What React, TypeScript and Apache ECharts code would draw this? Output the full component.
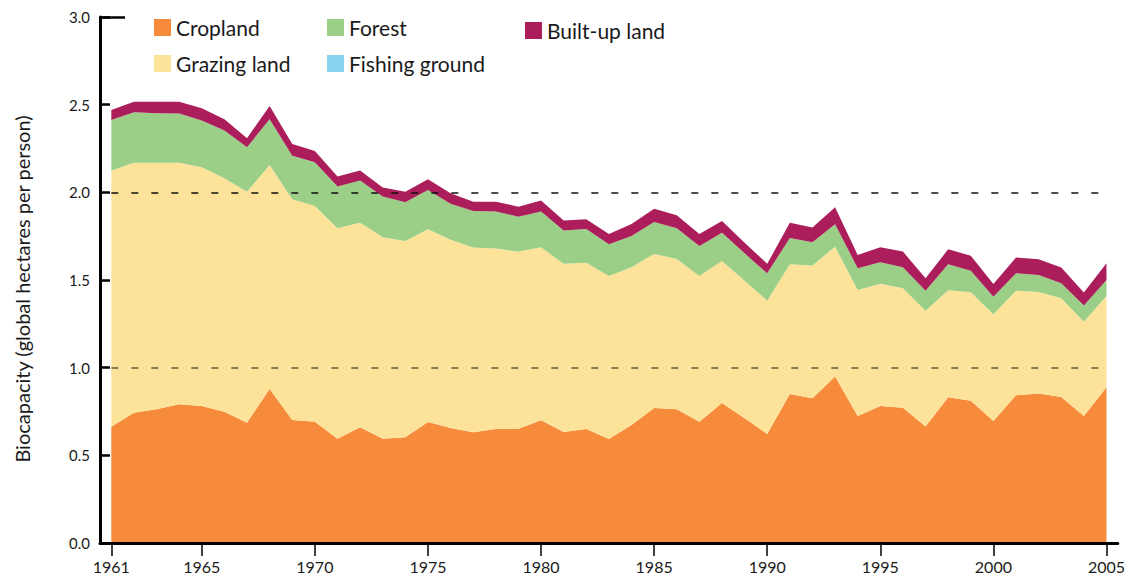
import React, { useEffect, useRef } from "react";
import * as echarts from "echarts";

const years = [
  "1961", "1962", "1963", "1964", "1965", "1966", "1967", "1968", "1969", "1970",
  "1971", "1972", "1973", "1974", "1975", "1976", "1977", "1978", "1979", "1980",
  "1981", "1982", "1983", "1984", "1985", "1986", "1987", "1988", "1989", "1990",
  "1991", "1992", "1993", "1994", "1995", "1996", "1997", "1998", "1999", "2000",
  "2001", "2002", "2003", "2004", "2005",
];

const cropland = [
  0.663, 0.743, 0.763, 0.791, 0.781, 0.749, 0.686, 0.878, 0.702, 0.692,
  0.595, 0.66, 0.595, 0.603, 0.69, 0.656, 0.631, 0.65, 0.652, 0.7,
  0.633, 0.65, 0.593, 0.673, 0.77, 0.763, 0.692, 0.799, 0.711, 0.622,
  0.85, 0.825, 0.949, 0.724, 0.781, 0.772, 0.664, 0.831, 0.812, 0.696,
  0.842, 0.852, 0.833, 0.724, 0.888,
];

const grazingLand = [
  1.461, 1.426, 1.406, 1.378, 1.362, 1.331, 1.318, 1.278, 1.258, 1.23,
  1.2, 1.167, 1.149, 1.12, 1.099, 1.074, 1.054, 1.03, 1.01, 0.987,
  0.959, 0.949, 0.93, 0.9, 0.879, 0.857, 0.831, 0.81, 0.785, 0.76,
  0.74, 0.757, 0.741, 0.719, 0.698, 0.681, 0.661, 0.61, 0.618, 0.609,
  0.597, 0.58, 0.563, 0.538, 0.521,
];

const fishingGround = [
  0, 0, 0, 0, 0, 0, 0, 0, 0, 0,
  0, 0, 0, 0, 0, 0, 0, 0, 0, 0,
  0, 0, 0, 0, 0, 0, 0, 0, 0, 0,
  0, 0, 0, 0, 0, 0, 0, 0, 0, 0,
  0, 0, 0, 0, 0,
];

const forest = [
  0.289, 0.288, 0.282, 0.281, 0.266, 0.272, 0.253, 0.261, 0.249, 0.25,
  0.238, 0.24, 0.232, 0.22, 0.225, 0.205, 0.209, 0.21, 0.199, 0.203,
  0.19, 0.192, 0.181, 0.178, 0.182, 0.175, 0.171, 0.161, 0.156, 0.156,
  0.15, 0.133, 0.128, 0.124, 0.122, 0.12, 0.113, 0.149, 0.123, 0.1,
  0.099, 0.097, 0.085, 0.092, 0.091,
];

const builtUpLand = [
  0.057, 0.06, 0.066, 0.067, 0.071, 0.065, 0.052, 0.076, 0.067, 0.064,
  0.057, 0.057, 0.051, 0.061, 0.061, 0.06, 0.053, 0.057, 0.057, 0.063,
  0.057, 0.055, 0.059, 0.069, 0.076, 0.074, 0.069, 0.067, 0.061, 0.054,
  0.087, 0.084, 0.097, 0.076, 0.086, 0.089, 0.072, 0.085, 0.086, 0.072,
  0.09, 0.089, 0.09, 0.074, 0.095,
];

const xTickYears = ["1961", "1965", "1970", "1975", "1980", "1985", "1990", "1995", "2000", "2005"];
const dashedLevels = [2.0, 1.0];

const COLORS = {
  cropland: "#F58B3B",
  grazing: "#FDE399",
  forest: "#9BCF87",
  fishing: "#88D4EF",
  builtUp: "#AB1E5B",
};

export default function App() {
  const ref = useRef<HTMLDivElement>(null);

  useEffect(() => {
    if (!ref.current) return;
    const chart = echarts.init(ref.current, null, { renderer: "svg" });
    const font = 'Lato, "Open Sans", sans-serif';

    const area = (name: string, values: number[], color: string) => ({
      name,
      type: "line",
      stack: "total",
      data: values,
      symbol: "none",
      showSymbol: false,
      lineStyle: { width: 0 },
      areaStyle: { color, opacity: 1 },
      itemStyle: { color },
      z: 2,
    });

    const legendBase = {
      orient: "vertical",
      icon: "rect",
      itemWidth: 17,
      itemHeight: 17,
      itemGap: 15,
      selectedMode: false,
      textStyle: { fontFamily: font, fontSize: 21, color: "#1a1a1a" },
    };

    const showYear = (_i: number, v: string) => xTickYears.indexOf(v) >= 0;

    chart.setOption({
      animation: false,
      textStyle: { fontFamily: font },
      legend: [
        { ...legendBase, left: 149, top: 12, data: ["Cropland", "Grazing land"] },
        { ...legendBase, left: 322, top: 12, data: ["Forest", "Fishing ground"] },
        { ...legendBase, left: 520, top: 15, data: ["Built-up land"] },
      ],
      grid: { left: 100, right: 6, top: 17, bottom: 36, containLabel: false },
      xAxis: {
        type: "category",
        data: years,
        boundaryGap: true,
        z: 10,
        axisLine: { show: true, onZero: false, lineStyle: { color: "#000", width: 3 } },
        axisTick: {
          show: true,
          alignWithLabel: true,
          interval: showYear,
          length: 13,
          lineStyle: { color: "#000", width: 1.5 },
        },
        axisLabel: {
          interval: showYear,
          fontSize: 16,
          color: "#1a1a1a",
          margin: 15,
          fontFamily: font,
        },
        splitLine: { show: false },
      },
      yAxis: {
        type: "value",
        min: 0,
        max: 3,
        interval: 0.5,
        z: 10,
        name: "Biocapacity (global hectares per person)",
        nameLocation: "middle",
        nameGap: 68,
        nameTextStyle: { fontSize: 20, color: "#1a1a1a", fontFamily: font, padding: [0, 18, 0, 0] },
        axisLine: { show: true, lineStyle: { color: "#000", width: 3 } },
        axisTick: { show: true, inside: true, length: 10, lineStyle: { color: "#000", width: 2.5 } },
        axisLabel: {
          formatter: (v: number) => v.toFixed(1),
          fontSize: 15,
          color: "#1a1a1a",
          margin: 10,
          fontFamily: font,
        },
        splitLine: { show: false },
      },
      series: [
        area("Cropland", cropland, COLORS.cropland),
        area("Grazing land", grazingLand, COLORS.grazing),
        area("Fishing ground", fishingGround, COLORS.fishing),
        area("Forest", forest, COLORS.forest),
        area("Built-up land", builtUpLand, COLORS.builtUp),
        {
          name: "guides",
          type: "line",
          data: [],
          z: 5,
          silent: true,
          markLine: {
            silent: true,
            symbol: ["none", "none"],
            label: { show: false },
            emphasis: { disabled: true },
            data: [
              [
                {
                  coord: [years[0], dashedLevels[0]],
                  lineStyle: { type: [7, 13], color: "#111", width: 1.5 },
                },
                { coord: [years[years.length - 1], dashedLevels[0]] },
              ],
              [
                {
                  coord: [years[0], dashedLevels[1]],
                  lineStyle: { type: [7, 13], color: "rgba(0,0,0,0.6)", width: 1.6 },
                },
                { coord: [years[years.length - 1], dashedLevels[1]] },
              ],
              [
                {
                  x: 100,
                  yAxis: 3,
                  lineStyle: { type: "solid", color: "#000", width: 2.5 },
                },
                { x: 125, yAxis: 3 },
              ],
            ],
          },
        },
      ],
    });

    return () => chart.dispose();
  }, []);

  return (
    <div
      ref={ref}
      style={{ position: "fixed", left: 0, top: 0, width: 1128, height: 579, background: "#fff" }}
    />
  );
}
